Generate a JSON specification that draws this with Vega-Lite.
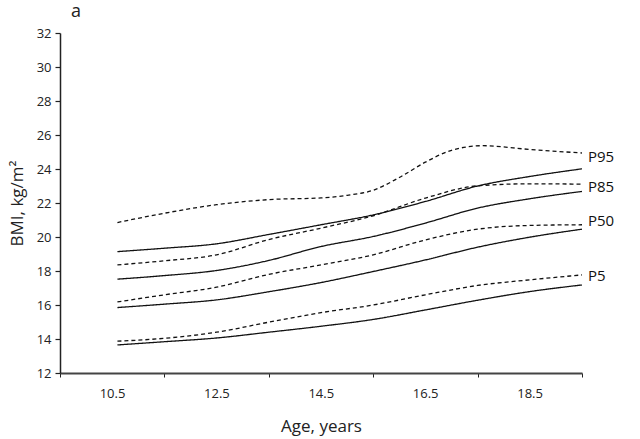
{
  "$schema": "https://vega.github.io/schema/vega-lite/v6.json",
  "width": 522,
  "height": 340,
  "autosize": "none",
  "padding": {"left": 60, "top": 33, "right": 58, "bottom": 66},
  "background": "white",
  "config": {
    "font": "Open Sans",
    "view": {"stroke": null},
    "axis": {"grid": false, "labelColor": "#222", "titleColor": "#222", "tickColor": "#222", "domainColor": "#222"}
  },
  "title": {"text": "a", "anchor": "start", "frame": "group", "dx": 11, "offset": 6, "fontSize": 18, "fontWeight": "normal", "color": "#222"},
  "datasets": {
    "curves": [
      {"series": "P95 dashed", "type": "dashed", "age": 10.6, "bmi": 20.85},
      {"series": "P95 dashed", "type": "dashed", "age": 11.5, "bmi": 21.4},
      {"series": "P95 dashed", "type": "dashed", "age": 12.5, "bmi": 21.9},
      {"series": "P95 dashed", "type": "dashed", "age": 13.5, "bmi": 22.2},
      {"series": "P95 dashed", "type": "dashed", "age": 14.5, "bmi": 22.3},
      {"series": "P95 dashed", "type": "dashed", "age": 15.0, "bmi": 22.45},
      {"series": "P95 dashed", "type": "dashed", "age": 15.5, "bmi": 22.75},
      {"series": "P95 dashed", "type": "dashed", "age": 16.0, "bmi": 23.5},
      {"series": "P95 dashed", "type": "dashed", "age": 16.5, "bmi": 24.4},
      {"series": "P95 dashed", "type": "dashed", "age": 17.0, "bmi": 25.1},
      {"series": "P95 dashed", "type": "dashed", "age": 17.6, "bmi": 25.37},
      {"series": "P95 dashed", "type": "dashed", "age": 18.5, "bmi": 25.15},
      {"series": "P95 dashed", "type": "dashed", "age": 19.5, "bmi": 24.94},

      {"series": "P95 solid", "type": "solid", "age": 10.6, "bmi": 19.14},
      {"series": "P95 solid", "type": "solid", "age": 11.5, "bmi": 19.34},
      {"series": "P95 solid", "type": "solid", "age": 12.5, "bmi": 19.6},
      {"series": "P95 solid", "type": "solid", "age": 13.5, "bmi": 20.15},
      {"series": "P95 solid", "type": "solid", "age": 14.5, "bmi": 20.72},
      {"series": "P95 solid", "type": "solid", "age": 15.5, "bmi": 21.3},
      {"series": "P95 solid", "type": "solid", "age": 16.5, "bmi": 22.09},
      {"series": "P95 solid", "type": "solid", "age": 17.5, "bmi": 23.0},
      {"series": "P95 solid", "type": "solid", "age": 18.5, "bmi": 23.56},
      {"series": "P95 solid", "type": "solid", "age": 19.5, "bmi": 24.01},

      {"series": "P85 dashed", "type": "dashed", "age": 10.6, "bmi": 18.36},
      {"series": "P85 dashed", "type": "dashed", "age": 11.5, "bmi": 18.6},
      {"series": "P85 dashed", "type": "dashed", "age": 12.5, "bmi": 18.95},
      {"series": "P85 dashed", "type": "dashed", "age": 13.5, "bmi": 19.85},
      {"series": "P85 dashed", "type": "dashed", "age": 14.5, "bmi": 20.52},
      {"series": "P85 dashed", "type": "dashed", "age": 15.5, "bmi": 21.25},
      {"series": "P85 dashed", "type": "dashed", "age": 16.5, "bmi": 22.29},
      {"series": "P85 dashed", "type": "dashed", "age": 17.5, "bmi": 23.01},
      {"series": "P85 dashed", "type": "dashed", "age": 18.5, "bmi": 23.13},
      {"series": "P85 dashed", "type": "dashed", "age": 19.5, "bmi": 23.11},

      {"series": "P85 solid", "type": "solid", "age": 10.6, "bmi": 17.52},
      {"series": "P85 solid", "type": "solid", "age": 11.5, "bmi": 17.73},
      {"series": "P85 solid", "type": "solid", "age": 12.5, "bmi": 18.03},
      {"series": "P85 solid", "type": "solid", "age": 13.5, "bmi": 18.62},
      {"series": "P85 solid", "type": "solid", "age": 14.5, "bmi": 19.44},
      {"series": "P85 solid", "type": "solid", "age": 15.5, "bmi": 20.03},
      {"series": "P85 solid", "type": "solid", "age": 16.5, "bmi": 20.82},
      {"series": "P85 solid", "type": "solid", "age": 17.5, "bmi": 21.7},
      {"series": "P85 solid", "type": "solid", "age": 18.5, "bmi": 22.25},
      {"series": "P85 solid", "type": "solid", "age": 19.5, "bmi": 22.68},

      {"series": "P50 dashed", "type": "dashed", "age": 10.6, "bmi": 16.18},
      {"series": "P50 dashed", "type": "dashed", "age": 11.5, "bmi": 16.6},
      {"series": "P50 dashed", "type": "dashed", "age": 12.5, "bmi": 17.05},
      {"series": "P50 dashed", "type": "dashed", "age": 13.5, "bmi": 17.8},
      {"series": "P50 dashed", "type": "dashed", "age": 14.5, "bmi": 18.36},
      {"series": "P50 dashed", "type": "dashed", "age": 15.5, "bmi": 18.95},
      {"series": "P50 dashed", "type": "dashed", "age": 16.5, "bmi": 19.83},
      {"series": "P50 dashed", "type": "dashed", "age": 17.5, "bmi": 20.46},
      {"series": "P50 dashed", "type": "dashed", "age": 18.5, "bmi": 20.68},
      {"series": "P50 dashed", "type": "dashed", "age": 19.5, "bmi": 20.72},

      {"series": "P50 solid", "type": "solid", "age": 10.6, "bmi": 15.85},
      {"series": "P50 solid", "type": "solid", "age": 11.5, "bmi": 16.05},
      {"series": "P50 solid", "type": "solid", "age": 12.5, "bmi": 16.3},
      {"series": "P50 solid", "type": "solid", "age": 13.5, "bmi": 16.78},
      {"series": "P50 solid", "type": "solid", "age": 14.5, "bmi": 17.32},
      {"series": "P50 solid", "type": "solid", "age": 15.5, "bmi": 17.97},
      {"series": "P50 solid", "type": "solid", "age": 16.5, "bmi": 18.65},
      {"series": "P50 solid", "type": "solid", "age": 17.5, "bmi": 19.4},
      {"series": "P50 solid", "type": "solid", "age": 18.5, "bmi": 19.99},
      {"series": "P50 solid", "type": "solid", "age": 19.5, "bmi": 20.46},

      {"series": "P5 dashed", "type": "dashed", "age": 10.6, "bmi": 13.87},
      {"series": "P5 dashed", "type": "dashed", "age": 11.5, "bmi": 14.04},
      {"series": "P5 dashed", "type": "dashed", "age": 12.5, "bmi": 14.4},
      {"series": "P5 dashed", "type": "dashed", "age": 13.5, "bmi": 14.99},
      {"series": "P5 dashed", "type": "dashed", "age": 14.5, "bmi": 15.55},
      {"series": "P5 dashed", "type": "dashed", "age": 15.5, "bmi": 16.0},
      {"series": "P5 dashed", "type": "dashed", "age": 16.5, "bmi": 16.6},
      {"series": "P5 dashed", "type": "dashed", "age": 17.5, "bmi": 17.15},
      {"series": "P5 dashed", "type": "dashed", "age": 18.5, "bmi": 17.48},
      {"series": "P5 dashed", "type": "dashed", "age": 19.5, "bmi": 17.77},

      {"series": "P5 solid", "type": "solid", "age": 10.6, "bmi": 13.65},
      {"series": "P5 solid", "type": "solid", "age": 11.5, "bmi": 13.84},
      {"series": "P5 solid", "type": "solid", "age": 12.5, "bmi": 14.06},
      {"series": "P5 solid", "type": "solid", "age": 13.5, "bmi": 14.4},
      {"series": "P5 solid", "type": "solid", "age": 14.5, "bmi": 14.75},
      {"series": "P5 solid", "type": "solid", "age": 15.5, "bmi": 15.15},
      {"series": "P5 solid", "type": "solid", "age": 16.5, "bmi": 15.71},
      {"series": "P5 solid", "type": "solid", "age": 17.5, "bmi": 16.28},
      {"series": "P5 solid", "type": "solid", "age": 18.5, "bmi": 16.79},
      {"series": "P5 solid", "type": "solid", "age": 19.5, "bmi": 17.18}
    ],
    "labels": [
      {"label": "P95", "age": 19.5, "bmi": 24.7},
      {"label": "P85", "age": 19.5, "bmi": 22.95},
      {"label": "P50", "age": 19.5, "bmi": 20.95},
      {"label": "P5", "age": 19.5, "bmi": 17.7}
    ]
  },
  "encoding": {
    "x": {
      "field": "age", "type": "quantitative",
      "scale": {"domain": [9.5, 19.5], "nice": false, "zero": false},
      "axis": {
        "title": "Age, years", "titleFontSize": 17, "titleFontWeight": "normal", "titlePadding": 18,
        "values": [9.5, 11.5, 13.5, 15.5, 17.5, 19.5],
        "labelExpr": "datum.value < 19 ? format(datum.value + 1, '.1f') : ''",
        "labelOffset": 52, "labelOverlap": false, "labelBound": false, "labelFlush": false,
        "labelFontSize": 13, "labelPadding": 10,
        "tickSize": 4, "domainWidth": 2, "domainColor": "#444", "tickWidth": 1
      }
    },
    "y": {
      "field": "bmi", "type": "quantitative",
      "scale": {"domain": [12, 32], "nice": false, "zero": false},
      "axis": {
        "title": "BMI, kg/m²", "titleFontSize": 17, "titleFontWeight": "normal", "titlePadding": 10,
        "values": [12, 14, 16, 18, 20, 22, 24, 26, 28, 30, 32],
        "labelOverlap": false, "labelBound": false, "labelFlush": false,
        "labelFontSize": 13, "labelPadding": 4,
        "tickSize": 5, "domainWidth": 1.5, "tickWidth": 1.2
      }
    }
  },
  "layer": [
    {
      "data": {"name": "curves"},
      "mark": {"type": "line", "interpolate": "monotone", "color": "#111", "strokeWidth": 1.3},
      "encoding": {
        "detail": {"field": "series"},
        "strokeDash": {
          "field": "type", "type": "nominal",
          "scale": {"domain": ["solid", "dashed"], "range": [[1, 0], [4, 3]]},
          "legend": null
        }
      }
    },
    {
      "data": {"name": "labels"},
      "mark": {"type": "text", "align": "left", "baseline": "middle", "dx": 6, "fontSize": 15, "color": "#111"},
      "encoding": {
        "text": {"field": "label"}
      }
    }
  ]
}
